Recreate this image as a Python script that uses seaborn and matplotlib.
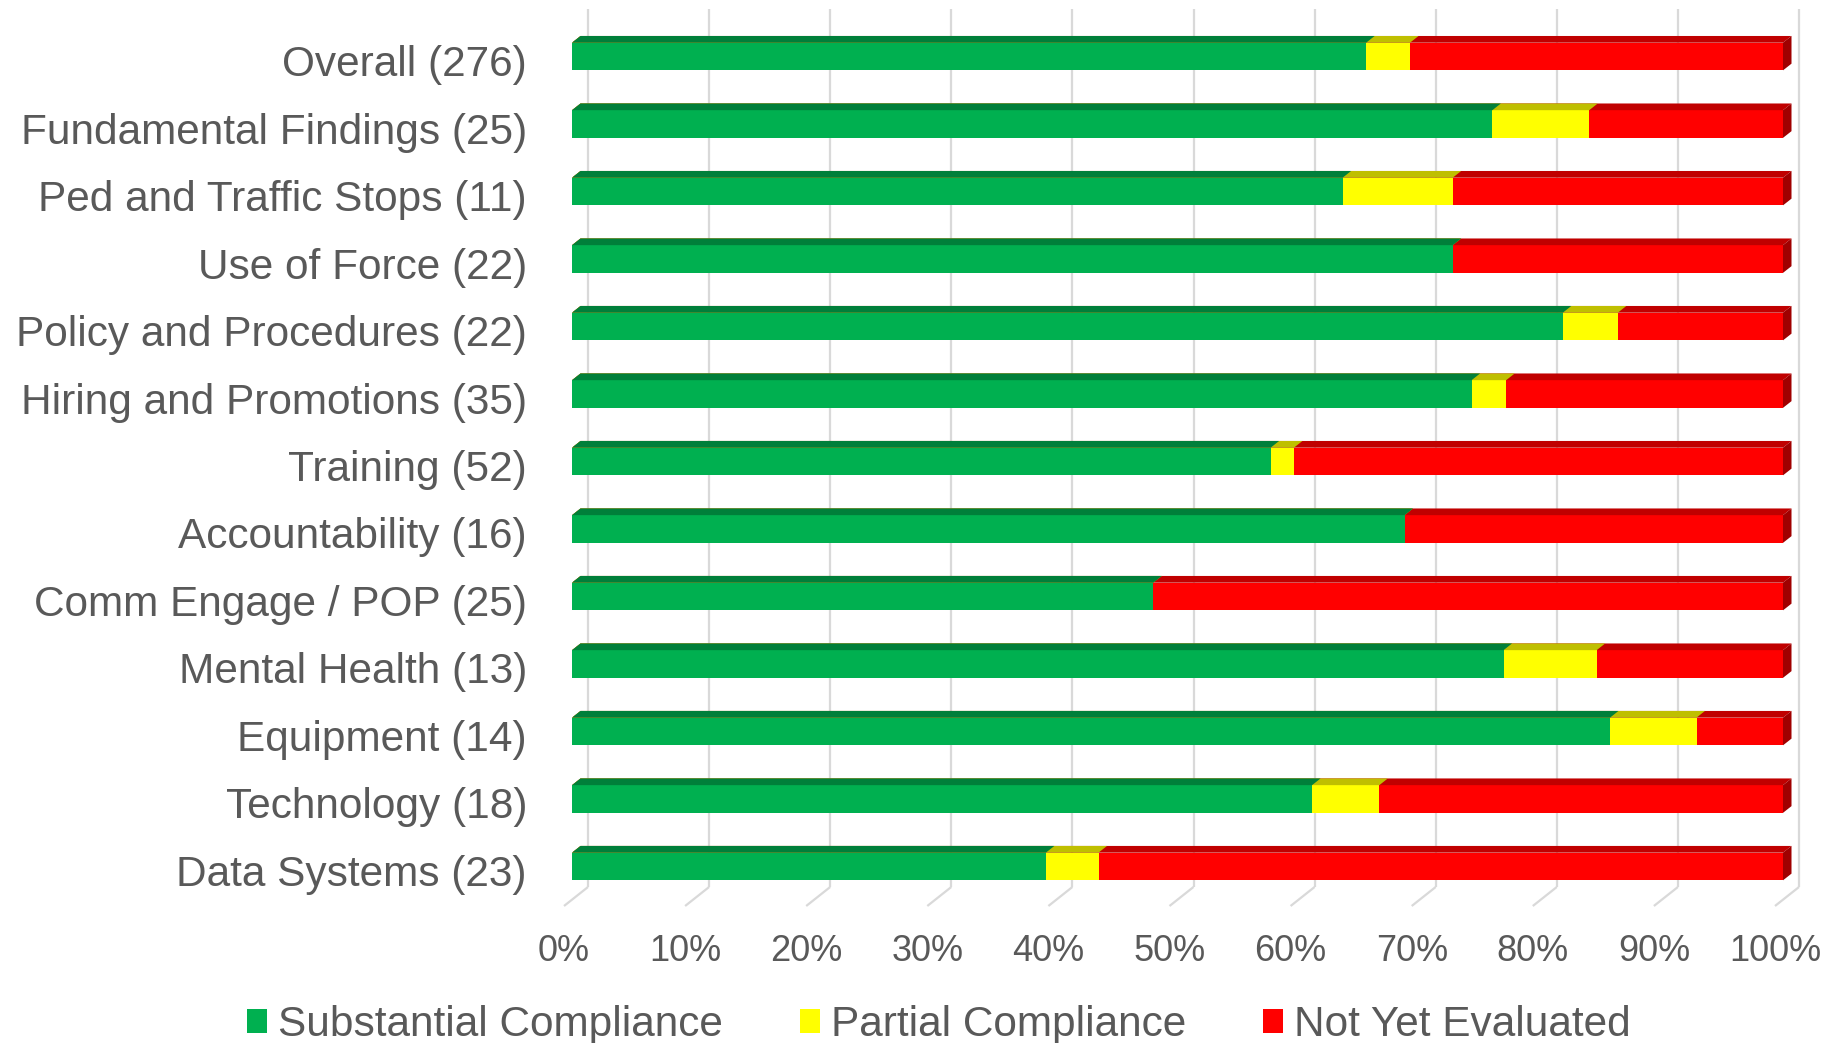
import matplotlib
matplotlib.use("Agg")
import matplotlib.pyplot as plt
import numpy as np
import pandas as pd
import seaborn as sns
from matplotlib import font_manager
from matplotlib.patches import Patch, Polygon
from matplotlib.transforms import ScaledTranslation

# ---- data -----------------------------------------------------------------
categories = [
    "Overall (276)",
    "Fundamental Findings (25)",
    "Ped and Traffic Stops (11)",
    "Use of Force (22)",
    "Policy and Procedures (22)",
    "Hiring and Promotions (35)",
    "Training (52)",
    "Accountability (16)",
    "Comm Engage / POP (25)",
    "Mental Health (13)",
    "Equipment (14)",
    "Technology (18)",
    "Data Systems (23)",
]
substantial = [181, 19, 7, 16, 18, 26, 30, 11, 12, 10, 12, 11, 9]
partial = [10, 2, 1, 0, 1, 1, 1, 0, 0, 1, 1, 1, 1]
not_evaluated = [85, 4, 3, 6, 3, 8, 21, 5, 13, 2, 1, 6, 13]

series_names = ["Substantial Compliance", "Partial Compliance", "Not Yet Evaluated"]
x_ticks = list(range(0, 101, 10))
x_tick_labels = [f"{t}%" for t in x_ticks]

# ---- style ----------------------------------------------------------------
sns.set_theme(style="white")
plt.rcParams["font.family"] = ["Liberation Sans", "DejaVu Sans"]
TEXT = "#595959"
GRID = "#D9D9D9"
FRONT = {"green": "#00B050", "yellow": "#FFFF00", "red": "#FF0000"}
TOP = {"green": "#007F3A", "yellow": "#BFBF00", "red": "#C00000"}
SIDE_RED = "#A00000"

try:
    font_manager.findfont("Liberation Sans Narrow", fallback_to_default=False)
    legend_family = ["Liberation Sans Narrow", "Liberation Sans"]
    legend_size = 37
except Exception:
    legend_family = ["Liberation Sans", "DejaVu Sans"]
    legend_size = 30.5

# ---- 100% stacked shares --------------------------------------------------
df = pd.DataFrame({
    "category": categories,
    "substantial": substantial,
    "partial": partial,
    "not_evaluated": not_evaluated,
})
total = df[["substantial", "partial", "not_evaluated"]].sum(axis=1)
df["green_end"] = df["substantial"] / total * 100
df["yellow_end"] = (df["substantial"] + df["partial"]) / total * 100
df["red_end"] = (df["substantial"] + df["partial"] + df["not_evaluated"]) / total * 100

# ---- figure ---------------------------------------------------------------
W, H = 1839, 1043
fig = plt.figure(figsize=(W / 100, H / 100), dpi=100)
fig.patch.set_facecolor("white")
ax = fig.add_axes([572 / W, 1 - 887 / H, 1211 / W, 878 / H])

n = len(categories)
y_lim = (n - 1 + 0.304, -0.704)
ax.set_xlim(0, 100)
ax.set_ylim(*y_lim)
ppu_x = ax.bbox.width / 100.0
ppu_y = ax.bbox.height / (y_lim[0] - y_lim[1])
depth_dx = 8.5 / ppu_x
depth_dy = 6.7 / ppu_y

layers = [("red_end", "red", 3), ("yellow_end", "yellow", 4), ("green_end", "green", 5)]
for col, key, z in layers:
    start = len(ax.patches)
    sns.barplot(data=df, x=col, y="category", orient="h", color=FRONT[key],
                saturation=1, width=0.41, linewidth=0, errorbar=None,
                zorder=z, ax=ax)
    for p in list(ax.patches[start:]):
        x0, y0 = p.get_x(), p.get_y()
        x1, h = x0 + p.get_width(), p.get_height()
        ax.add_patch(Polygon([(x0, y0), (x1, y0), (x1 + depth_dx, y0 - depth_dy),
                              (x0 + depth_dx, y0 - depth_dy)],
                             closed=True, facecolor=TOP[key], edgecolor="none",
                             zorder=z + 0.1, clip_on=False))
        if key == "red":
            ax.add_patch(Polygon([(x1, y0), (x1 + depth_dx, y0 - depth_dy),
                                  (x1 + depth_dx, y0 + h - depth_dy), (x1, y0 + h)],
                                 closed=True, facecolor=SIDE_RED, edgecolor="none",
                                 zorder=z + 0.1, clip_on=False))

ax.set_xlim(0, 100)
ax.set_ylim(*y_lim)

# back-wall gridlines and the slanted floor lines below them
back = 16 / ppu_x
front = 8 / ppu_x
floor_dy = 19 / ppu_y
for t in x_ticks:
    ax.plot([t + back, t + back], [y_lim[1], y_lim[0]], color=GRID, lw=1.6,
            zorder=1, clip_on=False, solid_capstyle="butt")
    ax.plot([t + back, t - front], [y_lim[0], y_lim[0] + floor_dy], color=GRID,
            lw=1.6, zorder=1, clip_on=False, solid_capstyle="butt")

for s in ax.spines.values():
    s.set_visible(False)
ax.grid(False)
ax.set_xlabel("")
ax.set_ylabel("")

ax.set_xticks(x_ticks)
ax.set_xticklabels(x_tick_labels)
ax.tick_params(axis="x", length=0, pad=34, labelsize=26, labelcolor=TEXT)
ax.tick_params(axis="y", length=0, pad=32.4, labelsize=30.5, labelcolor=TEXT)
for lbl in ax.get_xticklabels():
    lbl.set_transform(lbl.get_transform() + ScaledTranslation(-8 / 100, 0, fig.dpi_scale_trans))
for lbl in ax.get_yticklabels():
    lbl.set_transform(lbl.get_transform() + ScaledTranslation(0, -4 / 100, fig.dpi_scale_trans))

# ---- legend ---------------------------------------------------------------
em = legend_size * 100 / 72
handles = [Patch(facecolor=FRONT[k], edgecolor="none") for k in ("green", "yellow", "red")]
fig.legend(handles, series_names, loc="center left", bbox_to_anchor=(247 / W, 1 - 1025 / H),
           ncol=3, frameon=False, borderpad=0, borderaxespad=0,
           handlelength=20 / em, handleheight=21 / em, handletextpad=11 / em,
           columnspacing=77 / em,
           prop={"family": legend_family, "size": legend_size}, labelcolor=TEXT)

fig.savefig("out.png", dpi=100, facecolor="white")
